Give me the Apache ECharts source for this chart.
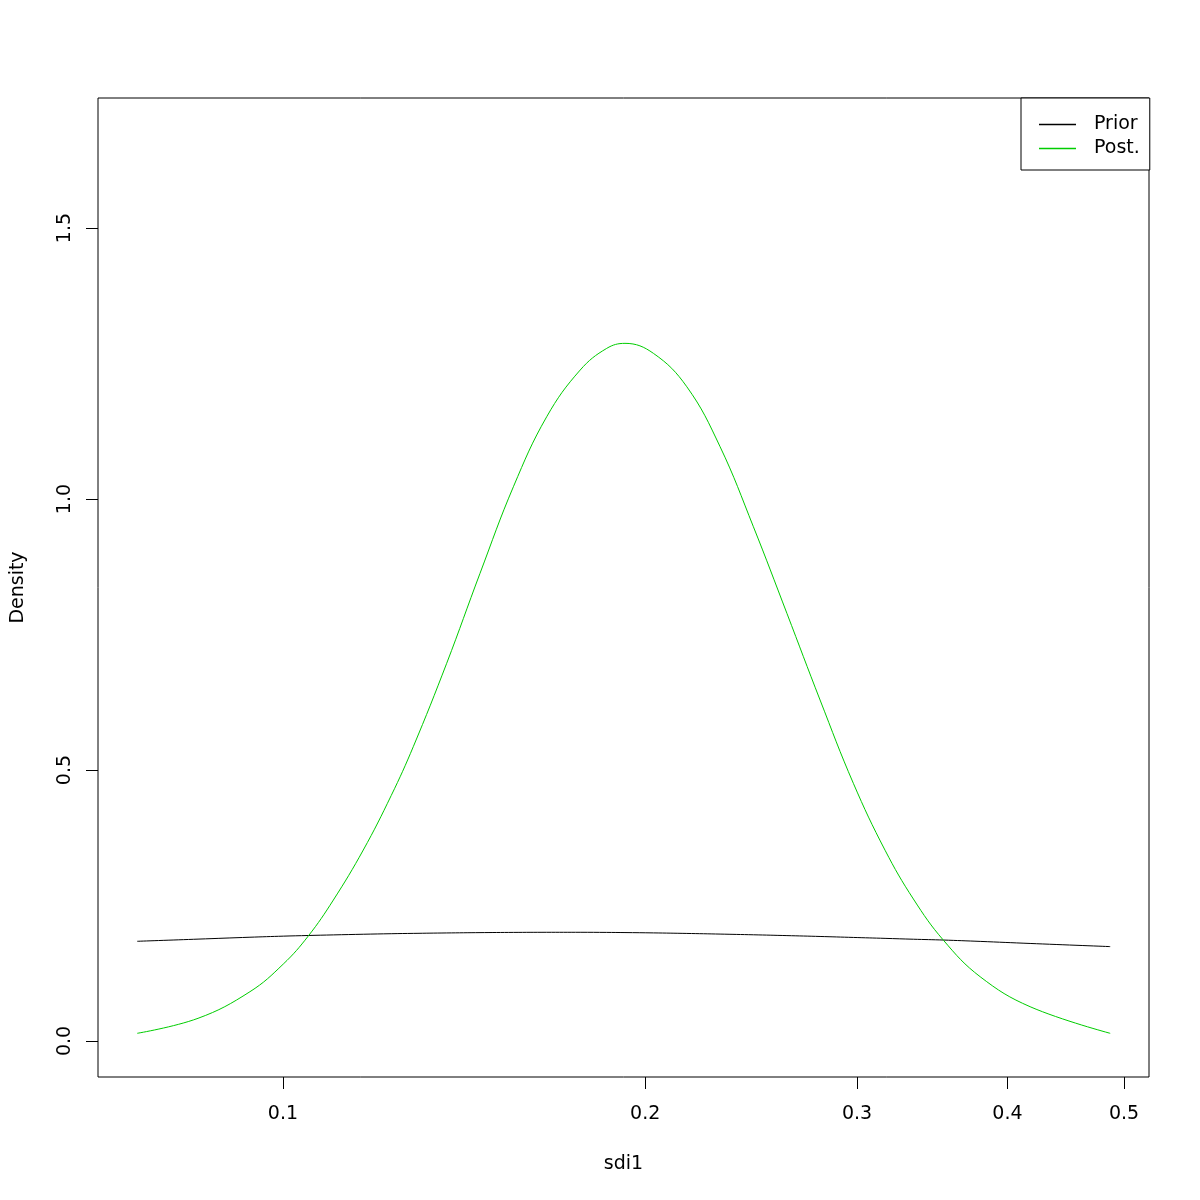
<!DOCTYPE html>
<html><head><meta charset="utf-8">
<script src="https://cdn.jsdelivr.net/npm/echarts@6/dist/echarts.min.js"></script>
<style>html,body{margin:0;padding:0;background:#fff}#c{width:1200px;height:1200px}</style>
</head><body><div id="c"></div>
<script>
const xVals = [0.07566,0.08500,0.09388,0.10006,0.10496,0.11012,0.11661,0.12302,0.12832,0.13679,0.14580,0.15542,0.16565,0.17660,0.18580,0.19242,0.20319,0.21659,0.23083,0.24602,0.26231,0.27950,0.29788,0.31652,0.33415,0.35391,0.37970,0.41778,0.48696];
const postVals = [0.0142,0.0419,0.0910,0.1420,0.1937,0.2601,0.3524,0.4530,0.5430,0.6969,0.8629,1.0227,1.1519,1.2380,1.2780,1.2873,1.2688,1.2072,1.0965,0.9489,0.7891,0.6292,0.4755,0.3520,0.2620,0.1860,0.1186,0.0633,0.0142];
const priorVals = [0.1840,0.1880,0.1915,0.1935,0.1947,0.1958,0.1970,0.1980,0.1986,0.1994,0.2000,0.2004,0.2006,0.2006,0.2004,0.2001,0.1995,0.1985,0.1973,0.1960,0.1945,0.1929,0.1911,0.1894,0.1878,0.1863,0.1838,0.1800,0.1742];
const xTicks = [0.1,0.2,0.3,0.4,0.5];
const yTicks = [0,0.5,1,1.5];
const seriesNames = ['Prior','Post.'];

const font = 'DejaVu Sans';
const lineIcon = 'path://M0,0 L37,0 L37,1.3 L0,1.3 Z';
const chart = echarts.init(document.getElementById('c'), null, {renderer:'canvas'});
chart.setOption({
  animation:false,
  backgroundColor:'#fff',
  grid:{left:98, right:51, top:98, bottom:123, show:true, borderColor:'#000', borderWidth:1, containLabel:false, outerBoundsMode:'none'},
  legend:{
    orient:'vertical', left:1021, top:98,
    padding:[17,10,12,18], itemGap:5, itemWidth:37, itemHeight:14,
    borderColor:'#000', borderWidth:1, backgroundColor:'#fff', borderRadius:0,
    textStyle:{fontFamily:font, fontSize:19, color:'#000', padding:[0,0,0,13]},
    data:seriesNames.map(n=>({name:n, icon:lineIcon}))
  },
  xAxis:{
    type:'log', logBase:10, min:0.07019, max:0.5245,
    name:'sdi1', nameLocation:'middle', nameGap:78,
    nameTextStyle:{fontFamily:font, fontSize:19, color:'#000'},
    axisLine:{show:false, onZero:false},
    axisTick:{show:true, length:12, lineStyle:{color:'#000'}, customValues:xTicks},
    axisLabel:{fontFamily:font, fontSize:19, color:'#000', margin:28, customValues:xTicks, formatter:v=>String(v)},
    splitLine:{show:false}
  },
  yAxis:{
    type:'value', min:-0.0664, max:1.740,
    name:'Density', nameLocation:'middle', nameGap:70, nameRotate:90,
    nameTextStyle:{fontFamily:font, fontSize:19, color:'#000'},
    axisLine:{show:false, onZero:false},
    axisTick:{show:true, length:12, lineStyle:{color:'#000'}, customValues:yTicks},
    axisLabel:{fontFamily:font, fontSize:19, color:'#000', margin:23, rotate:90, customValues:yTicks, formatter:v=>v.toFixed(1)},
    splitLine:{show:false}
  },
  series:[
    {name:seriesNames[0], type:'line', data:xVals.map((x,i)=>[x,priorVals[i]]), showSymbol:false, symbol:'none', smooth:0.4, lineStyle:{color:'#000', width:1}, itemStyle:{color:'#000'}},
    {name:seriesNames[1], type:'line', data:xVals.map((x,i)=>[x,postVals[i]]), showSymbol:false, symbol:'none', smooth:0.4, lineStyle:{color:'#00cd00', width:1}, itemStyle:{color:'#00cd00'}}
  ]
});
</script></body></html>
